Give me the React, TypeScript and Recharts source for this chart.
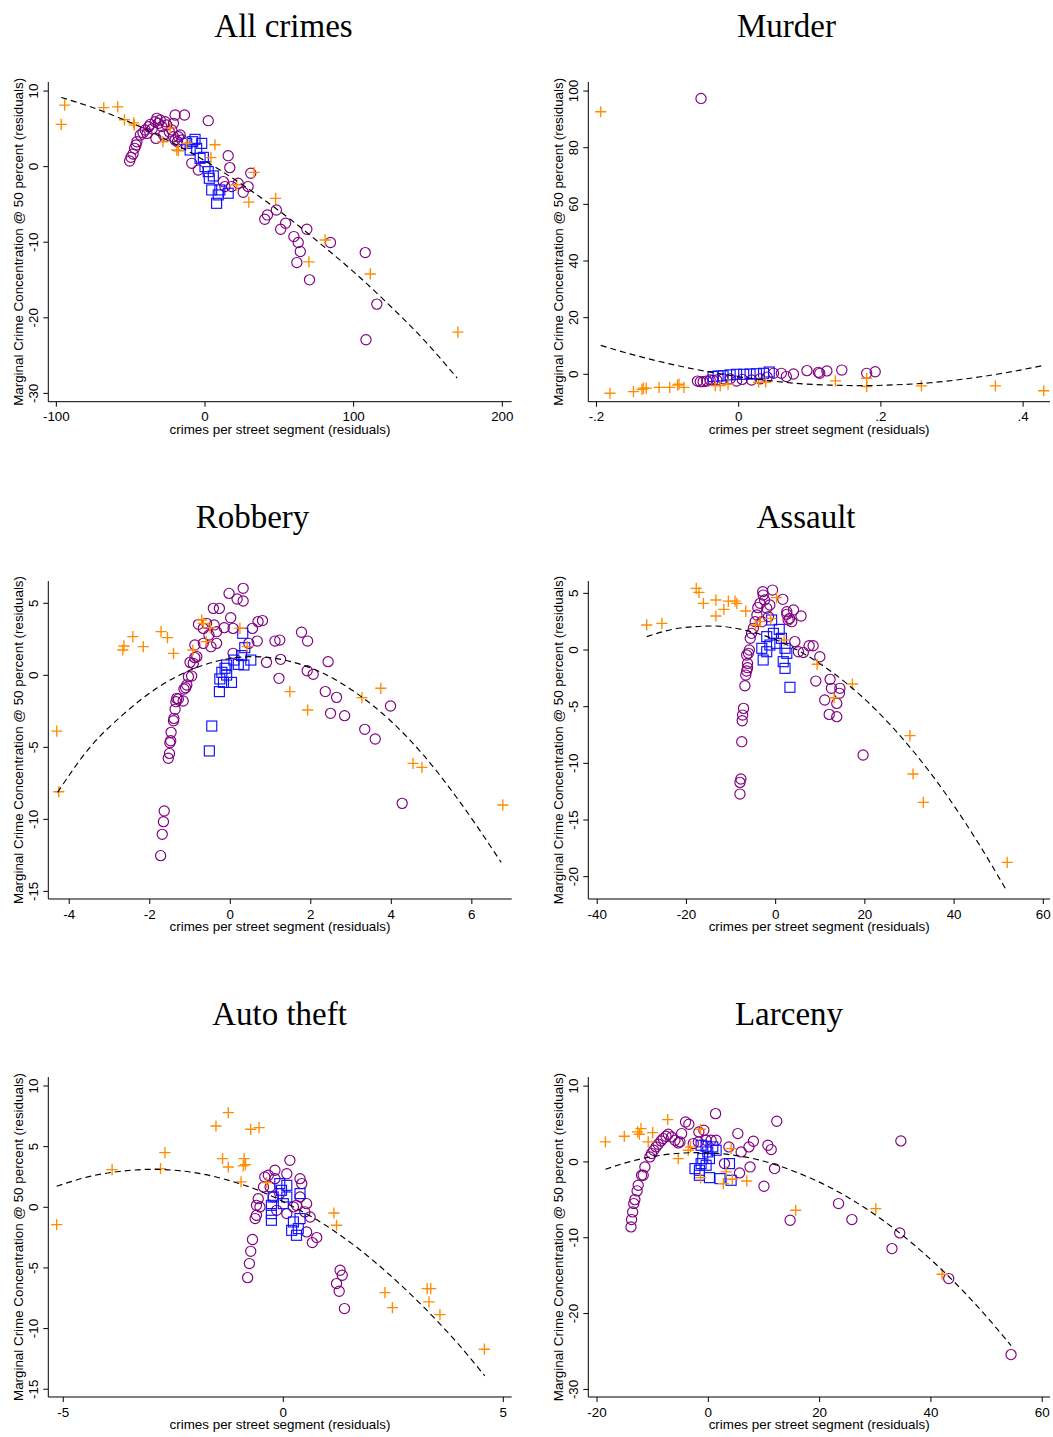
import { ScatterChart, Scatter, XAxis, YAxis } from 'recharts'

type Pt = [number, number]

// ---------- All crimes ----------
const allCrimesCircles: Pt[] = [
  [-50.7, 0.75], [-49.8, 1.23], [-48.4, 1.67], [-47.3, 2.42], [-46.4, 2.86], [-45.8, 3.3], [-43.5, 4.19],
  [-41.7, 4.49], [-40.2, 4.85], [-39, 4.4], [-37.9, 5.29], [-36.8, 5.59], [-35.5, 5.0], [-33.5, 5.95],
  [-32.4, 6.39], [-31.3, 5.73], [-30.1, 6.17], [-29, 5.3], [-26.8, 5.95], [-25.7, 5.51], [-24, 4.6],
  [-21.2, 5.73], [-20.1, 6.83], [-13.8, 6.83], [2.2, 6.08], [-33.0, 3.74], [-27.9, 4.19], [-22.3, 4.85],
  [-21.2, 3.96], [-20.1, 3.52], [-18.5, 3.3], [-17.9, 3.96], [-16.7, 4.19], [-15.6, 3.52], [-8.9, 0.44],
  [-4.5, -0.44], [15.6, 1.45], [16.7, -0.13], [30.8, -0.88], [12.3, -1.98], [13.4, -2.64], [17.9, -2.64],
  [22.3, -2.2], [29.0, -2.64], [25.7, -3.39], [48.0, -5.73], [40.2, -6.96], [42.0, -6.39], [54.2, -7.49],
  [50.9, -8.28], [59.8, -9.25], [62.7, -10.04], [64.1, -11.23], [61.8, -12.69], [68.5, -8.28], [70.3, -14.98],
  [84.4, -10.04], [107.8, -11.37], [115.6, -18.19], [108.3, -22.9],
]
const allCrimesSquares: Pt[] = [
  [-12.3, 3.08], [-8.3, 3.3], [-6.7, 3.61], [-2.2, 3.08], [-10.0, 2.2], [-5.6, 2.42], [-3.3, 1.1],
  [-1.1, 1.23], [0, 0], [2.2, -0.66], [5.6, -1.23], [2.9, -1.54], [4.5, -3.08], [8.9, -3.74],
  [15.6, -3.52], [7.8, -4.85], [10.0, -3.08],
]
const allCrimesPluses: Pt[] = [
  [-94.4, 8.15], [-96.7, 5.6], [-68.1, 7.8], [-58.7, 7.9], [-54.2, 6.2], [-48.0, 5.8], [-47.5, 5.5],
  [-23.4, 5.1], [-28.3, 3.3], [-19.0, 2.2], [-17.9, 2.1], [-12.3, 3.1], [6.7, 2.9], [4.0, 1.2],
  [33.0, -0.75], [21.2, -2.4], [29.5, -4.7], [47.5, -4.2], [69.9, -12.6], [80.8, -9.7], [111.2, -14.2],
  [170.1, -21.9],
]
const allCrimesFit: Pt[] = [
  [-96.7, 9.16], [-77.0, 7.92], [-54.7, 6.22], [-32.4, 4.21], [-10.0, 1.89], [12.3, -0.73], [34.6, -3.67],
  [56.9, -6.9], [79.2, -10.45], [101.6, -14.2], [123.9, -18.3], [146.2, -22.7], [169.6, -27.97],
]

// ---------- Murder ----------
const murderCircles: Pt[] = [
  [-0.058, -2.4], [-0.054, -2.6], [-0.05, -2.6], [-0.045, -2.4], [-0.04, -2.0], [-0.036, -2.2], [-0.031, -2.0],
  [-0.022, -1.6], [-0.012, -1.6], [-0.003, -2.4], [0.005, -1.8], [0.018, -2.0], [0.03, -1.6], [0.04, -1.0],
  [0.049, 0.35], [0.06, 0.35], [0.067, -0.8], [0.077, 0.1], [0.096, 1.3], [0.112, 0.7], [0.114, 0.35],
  [0.124, 1.2], [0.145, 1.5], [0.18, 0.35], [0.192, 0.9], [-0.053, 97.4],
]
const murderSquares: Pt[] = [
  [-0.036, -0.8], [-0.029, -0.6], [-0.022, -0.5], [-0.012, -0.2], [-0.003, 0], [0.007, 0], [0.016, 0.1],
  [0.025, 0.2], [0.035, 0.35], [0.043, 0.8],
]
const murderPluses: Pt[] = [
  [-0.194, 92.7], [-0.181, -6.7], [-0.148, -6.1], [-0.136, -5.3], [-0.134, -4.9], [-0.13, -4.9], [-0.112, -4.6],
  [-0.097, -4.6], [-0.086, -3.8], [-0.084, -3.5], [-0.077, -4.6], [-0.033, -4.0], [-0.026, -4.0], [-0.015, -3.5],
  [0.028, -2.8], [0.038, -2.8], [0.136, -2.3], [0.18, -1.4], [0.18, -4.3], [0.257, -4.1], [0.361, -4.1],
  [0.429, -5.8],
]
const murderFit: Pt[] = [
  [-0.194, 10.2], [-0.153, 7.2], [-0.106, 4.2], [-0.059, 1.65], [-0.012, -0.4], [0.035, -2.0], [0.081, -3.2],
  [0.128, -3.8], [0.175, -4.0], [0.222, -3.7], [0.269, -3.0], [0.316, -1.7], [0.363, 0], [0.428, 3.1],
]

// ---------- Robbery ----------
const robberyCircles: Pt[] = [
  [-1.73, -12.52], [-1.69, -11.04], [-1.66, -10.16], [-1.64, -9.42], [-1.54, -5.76], [-1.51, -5.42], [-1.5, -4.68],
  [-1.48, -4.54], [-1.47, -3.96], [-1.41, -3.15], [-1.4, -2.99], [-1.37, -2.36], [-1.35, -1.83], [-1.33, -1.6],
  [-1.29, -1.64], [-1.17, -1.78], [-1.15, -0.95], [-1.11, -0.86], [-1.08, -0.67], [-1.04, -0.09], [-0.96, -0.05],
  [-1.0, 0.9], [-0.92, 0.83], [-0.88, 1.23], [-0.83, 1.3], [-0.88, 2.11], [-0.67, 2.22], [-0.48, 1.99],
  [-0.34, 2.22], [-0.53, 2.8], [-0.34, 3.03], [-0.79, 3.54], [-0.67, 3.26], [-0.59, 3.61], [-0.4, 3.5],
  [-0.42, 4.65], [-0.27, 4.65], [-0.15, 3.31], [0.01, 4.0], [0.07, 3.26], [-0.03, 5.69], [0.17, 5.3],
  [0.32, 5.16], [0.32, 6.04], [0.07, 1.53], [0.46, 2.22], [0.55, 3.26], [0.67, 2.38], [0.69, 3.73],
  [0.8, 3.8], [0.9, 0.9], [1.11, 2.38], [1.23, 2.45], [1.25, 1.11], [1.21, -0.21], [1.77, 2.99],
  [1.92, 2.38], [1.91, 0.32], [2.06, 0.07], [2.43, 0.95], [2.36, -1.13], [2.64, -1.53], [2.49, -2.64],
  [2.84, -2.8], [3.34, -3.75], [3.6, -4.42], [3.98, -2.13], [4.27, -8.89],
]
const robberySquares: Pt[] = [
  [0.31, 2.92], [0.36, 1.92], [0.28, 1.37], [0.51, 1.06], [0.09, 1.06], [0.2, 0.76], [0.34, 0.72],
  [-0.09, 0.72], [-0.13, 0.49], [-0.21, 0.21], [-0.09, 0.02], [-0.26, -0.25], [-0.17, -0.49], [0.03, -0.49],
  [-0.27, -1.13], [-0.46, -3.52], [-0.52, -5.25],
]
const robberyPluses: Pt[] = [
  [-4.31, -3.87], [-4.26, -8.08], [-2.67, 1.76], [-2.64, 2.04], [-2.42, 2.69], [-2.16, 1.99], [-1.72, 3.03],
  [-1.56, 2.62], [-1.41, 1.53], [-0.93, 1.76], [-0.71, 3.84], [-0.67, 3.61], [-0.5, 3.31], [-0.6, 2.34],
  [0.24, 3.26], [0.42, 1.99], [1.48, -1.13], [1.92, -2.41], [3.27, -1.55], [3.74, -0.9], [4.54, -6.11],
  [4.76, -6.39], [6.77, -9.0],
]
const robberyFit: Pt[] = [
  [-4.29, -8.13], [-3.48, -4.98], [-2.65, -2.69], [-1.83, -0.9], [-1.0, 0.35], [-0.17, 1.09], [0.57, 1.3],
  [1.48, 0.97], [2.31, 0.14], [3.13, -1.23], [3.96, -3.1], [4.79, -5.51], [5.61, -8.43], [6.73, -12.99],
]

// ---------- Assault ----------
const assaultCircles: Pt[] = [
  [-8.0, -12.71], [-8.0, -11.68], [-7.8, -11.38], [-7.6, -8.09], [-7.5, -6.24], [-7.4, -5.74], [-7.2, -5.15],
  [-6.9, -3.15], [-6.7, -2.21], [-6.5, -1.85], [-6.3, -1.56], [-6.3, -1.18], [-6.5, -0.44], [-6.1, -0.29],
  [-5.9, 0], [-5.7, 1.03], [-5.4, 1.47], [-5.0, 1.91], [-4.6, 2.5], [-4.2, 3.09], [-4.0, 3.74], [-3.5, 4.12],
  [-2.9, 5.15], [-2.8, 4.85], [-0.7, 5.29], [-2.5, 4.41], [-2.0, 3.68], [-1.3, 3.97], [-1.6, 2.94],
  [-3.1, 2.5], [1.6, 4.47], [2.5, 3.15], [2.5, 3.38], [2.8, 2.65], [3.1, 2.79], [3.6, 2.5], [4.0, 3.53],
  [5.7, 3.0], [4.3, 0.74], [5.1, -0.15], [6.2, -0.21], [7.5, 0.38], [8.4, 0.38], [9.9, -0.59], [9.0, -2.74],
  [12.2, -2.59], [12.5, -3.38], [14.4, -3.38], [11.0, -4.41], [13.7, -4.71], [12.0, -5.68], [13.7, -5.88],
  [14.3, -3.82], [19.6, -9.26],
]
const assaultSquares: Pt[] = [
  [-0.9, 2.65], [0.8, 1.82], [-2.0, 1.18], [-0.5, 1.47], [1.3, 1.03], [-3.1, 0.15], [-1.3, 0.44],
  [0.2, 0.59], [2.1, 0.15], [-2.0, -0.15], [2.5, -0.29], [-2.8, -0.88], [1.7, -1.03], [2.1, -1.62],
  [3.2, -3.29],
]
const assaultPluses: Pt[] = [
  [-28.9, 2.21], [-25.5, 2.35], [-17.8, 5.44], [-17.2, 5.09], [-16.2, 4.12], [-13.4, 4.41], [-13.4, 3.0],
  [-11.6, 3.59], [-10.6, 4.32], [-9.1, 4.32], [-8.7, 4.12], [-6.7, 3.44], [-4.5, 2.21], [-3.5, 2.5],
  [-1.1, 2.79], [0.2, 4.62], [1.9, 0.88], [9.3, -1.26], [17.2, -3.0], [13.1, -4.21], [30.1, -7.56],
  [30.8, -10.94], [33.1, -13.44], [51.9, -18.74],
]
const assaultFit: Pt[] = [
  [-28.9, 1.18], [-21.4, 1.94], [-14.0, 2.12], [-6.5, 1.71], [1.0, 0.74], [8.4, -0.82], [15.9, -2.94],
  [23.4, -5.65], [30.8, -8.91], [38.3, -12.79], [45.7, -17.21], [51.7, -21.18],
]

// ---------- Auto theft ----------
const autoCircles: Pt[] = [
  [-0.81, -5.8], [-0.77, -4.64], [-0.74, -3.63], [-0.7, -2.66], [-0.64, -0.93], [-0.61, -0.66], [-0.61, 0.16],
  [-0.57, 0.71], [-0.53, 0.03], [-0.45, 1.68], [-0.42, 2.5], [-0.34, 2.64], [-0.19, 3.05], [-0.19, 2.36],
  [0.08, 2.77], [0.15, 3.87], [0.38, 2.36], [0.42, 1.95], [0.38, 0.85], [0.3, 0.16], [0.53, 0.3],
  [0.49, -0.38], [0.23, 0.03], [0.08, -0.52], [0.61, -0.8], [0.53, -2.03], [0.76, -2.5], [0.66, -2.91],
  [1.29, -5.19], [1.34, -5.6], [1.21, -6.29], [1.27, -6.92], [1.39, -8.35], [-0.23, 0.85], [-0.15, -0.25],
  [-0.3, 1.68], [-0.08, 1.13],
]
const autoSquares: Pt[] = [
  [-0.08, 1.95], [0.08, 1.81], [-0.04, 1.4], [-0.23, 0.85], [0.08, 0.85], [0.38, 1.13], [-0.27, 0.16],
  [-0.27, -0.52], [-0.27, -1.07], [0, 0.3], [0.23, -1.21], [0.38, -0.93], [0.19, -1.9], [0.3, -2.31],
  [0.34, -1.76],
]
const autoPluses: Pt[] = [
  [-5.15, -1.43], [-3.89, 3.1], [-2.79, 3.19], [-2.69, 4.51], [-1.53, 6.7], [-1.25, 7.8], [-1.38, 4.01],
  [-1.25, 3.32], [-0.89, 4.01], [-0.91, 3.41], [-0.86, 3.52], [-0.74, 6.43], [-0.55, 6.57], [-0.96, 2.09],
  [-0.38, 2.03], [1.15, -0.47], [1.21, -1.48], [2.31, -7.03], [2.48, -8.27], [3.27, -6.7], [3.35, -6.7],
  [3.31, -7.8], [3.56, -8.85], [4.57, -11.7],
]
const autoFit: Pt[] = [
  [-5.15, 1.73], [-4.39, 2.55], [-3.64, 2.99], [-2.99, 3.13], [-2.12, 2.91], [-1.36, 2.34], [-0.61, 1.46],
  [0.15, 0.19], [0.91, -1.37], [1.67, -3.3], [2.42, -5.58], [3.18, -8.19], [3.94, -11.13], [4.58, -13.9],
]

// ---------- Larceny ----------
const larcenyCircles: Pt[] = [
  [-13.9, -8.57], [-13.8, -7.6], [-13.6, -6.59], [-13.4, -5.49], [-13.2, -4.97], [-12.8, -3.82], [-12.6, -3.08],
  [-12.0, -1.76], [-11.7, -1.76], [-11.4, -0.66], [-10.5, 0.66], [-10.2, 1.1], [-9.8, 1.54], [-9.4, 1.98],
  [-9.0, 2.33], [-8.5, 2.77], [-8.1, 3.08], [-7.6, 3.38], [-7.2, 3.65], [-6.6, 3.3], [-6.0, 2.86],
  [-5.4, 2.51], [-5.1, 2.64], [-4.8, 3.74], [-4.1, 5.27], [-3.5, 4.97], [-2.7, 2.42], [-1.8, 2.64],
  [-1.7, 3.96], [-0.8, 4.18], [-0.4, 2.86], [0.5, 2.86], [1.3, 6.37], [1.4, 2.86], [2.9, -0.22],
  [3.7, 1.98], [5.3, 3.74], [5.9, 1.32], [5.6, -1.45], [7.3, 1.98], [8.1, 2.73], [7.5, -0.66],
  [10.7, 2.2], [11.3, 1.63], [11.9, -0.88], [12.3, 5.36], [10.0, -3.21], [14.7, -7.69], [23.4, -5.49],
  [25.8, -7.6], [33.0, -11.43], [34.4, -9.36], [34.6, 2.77], [43.2, -15.38], [54.4, -25.41],
]
const larcenySquares: Pt[] = [
  [-1.3, 2.2], [-0.4, 2.07], [0.8, 1.98], [1.4, 1.54], [-0.1, 1.32], [-1.0, 0.44], [0.2, 0.44],
  [-1.3, -0.22], [-0.4, -0.44], [-2.4, -0.88], [-1.6, -1.1], [-1.6, -1.76], [0.2, -2.07], [2.1, -2.2],
  [4.1, -2.42], [3.8, -0.22],
]
const larcenyPluses: Pt[] = [
  [-18.5, 2.64], [-15.1, 3.38], [-12.7, 3.96], [-12.4, 3.65], [-12.1, 4.4], [-10.0, 3.87], [-10.8, 2.64],
  [-7.3, 5.58], [-5.4, 0.44], [-3.6, 1.54], [-3.2, 1.98], [-1.4, 4.31], [-1.4, -2.07], [2.7, -2.86],
  [3.2, -1.32], [4.1, 1.76], [4.3, -2.29], [6.9, -2.51], [15.7, -6.37], [30.1, -6.15], [42.0, -14.81],
]
const larcenyFit: Pt[] = [
  [-18.5, -0.97], [-14.1, 0.04], [-8.1, 0.92], [-2.1, 1.23], [3.8, 0.97], [9.8, 0.13], [15.7, -1.32],
  [21.7, -3.3], [27.7, -5.85], [33.6, -8.92], [39.6, -12.62], [45.6, -16.88], [51.5, -21.67], [54.4, -24.22],
]

const PURPLE = '#800080'
const BLUE = '#1010ff'
const ORANGE = '#ff8c00'
const SANS = '"Liberation Sans", Arial, Helvetica, sans-serif'
const SERIF = '"Liberation Serif", "Times New Roman", serif'
const FS = 13.4

const Y_AXIS_W = 48.3
const X_AXIS_H = 40
const TOP_PAD = 12
const RIGHT_PAD = 3

const toPts = (arr: Pt[]) => arr.map(([x, y]) => ({ x, y }))

const Ring = (p: any) => <circle cx={p.cx} cy={p.cy} r={5.1} fill="none" stroke={PURPLE} strokeWidth={1.15} />
const Box = (p: any) => (
  <rect x={p.cx - 5} y={p.cy - 5} width={10} height={10} fill="none" stroke={BLUE} strokeWidth={1.15} />
)
const Cross = (p: any) => (
  <path
    d={`M${p.cx - 5.6},${p.cy}H${p.cx + 5.6}M${p.cx},${p.cy - 5.6}V${p.cy + 5.6}`}
    stroke={ORANGE}
    strokeWidth={1.35}
    fill="none"
  />
)
const NoDot = () => <g />

const plain = (v: number) => String(v)
const stataDec = (v: number) => String(v).replace(/^(-?)0\./, '$1.')

interface PanelProps {
  box: { left: number; right: number; top: number; bottom: number }
  xDomain: [number, number]
  yDomain: [number, number]
  xTicks: number[]
  yTicks: number[]
  circles: Pt[]
  squares: Pt[]
  pluses: Pt[]
  fit: Pt[]
  xFmt?: (v: number) => string
}

function Panel({ box, xDomain, yDomain, xTicks, yTicks, circles, squares, pluses, fit, xFmt = plain }: PanelProps) {
  const chartLeft = box.left - Y_AXIS_W
  const chartTop = box.top - TOP_PAD
  const width = box.right - chartLeft + RIGHT_PAD
  const height = box.bottom + X_AXIS_H - chartTop

  const yTick = (p: any) => (
    <text
      x={0}
      y={0}
      transform={`translate(${p.x},${p.y}) rotate(-90)`}
      textAnchor="middle"
      fontSize={FS}
      fontFamily={SANS}
      fill="#000"
    >
      {plain(p.payload.value)}
    </text>
  )

  return (
    <div style={{ position: 'absolute', left: chartLeft, top: chartTop, fontFamily: SANS }}>
      <ScatterChart width={width} height={height} margin={{ top: TOP_PAD, right: RIGHT_PAD, left: 0, bottom: 0 }}>
        <XAxis
          type="number"
          dataKey="x"
          domain={xDomain}
          ticks={xTicks}
          interval={0}
          height={X_AXIS_H}
          tickSize={5}
          tickMargin={5}
          tickFormatter={xFmt}
          tick={{ fontSize: FS, fill: '#000' }}
          axisLine={{ stroke: '#000' }}
          tickLine={{ stroke: '#000' }}
          label={{
            value: 'crimes per street segment (residuals)',
            position: 'insideBottom',
            offset: 8,
            fontSize: FS,
            fill: '#000',
          }}
        />
        <YAxis
          type="number"
          dataKey="y"
          domain={yDomain}
          ticks={yTicks}
          interval={0}
          width={Y_AXIS_W}
          tickSize={5}
          tickMargin={5.6}
          tick={yTick}
          axisLine={{ stroke: '#000' }}
          tickLine={{ stroke: '#000' }}
          label={{
            value: 'Marginal Crime Concentration @ 50 percent (residuals)',
            angle: -90,
            position: 'insideLeft',
            offset: 18,
            fontSize: FS,
            fill: '#000',
            style: { textAnchor: 'middle' },
          }}
        />
        <Scatter data={toPts(circles)} shape={Ring} isAnimationActive={false} />
        <Scatter data={toPts(squares)} shape={Box} isAnimationActive={false} />
        <Scatter data={toPts(pluses)} shape={Cross} isAnimationActive={false} />
        <Scatter
          data={toPts(fit)}
          shape={NoDot}
          line={{ stroke: '#000', strokeWidth: 1.15, strokeDasharray: '6 4' }}
          lineType="joint"
          lineJointType="monotoneX"
          isAnimationActive={false}
        />
      </ScatterChart>
    </div>
  )
}

const titles = ['All crimes', 'Murder', 'Robbery', 'Assault', 'Auto theft', 'Larceny']
const titlePos: [number, number][] = [
  [283.5, 37], [786.5, 37], [252.5, 528], [806, 528], [279.5, 1025], [789, 1025],
]

const LEFT_COL = { left: 48.3, right: 511.7 }
const RIGHT_COL = { left: 588.3, right: 1050 }

export default function App() {
  return (
    <div style={{ position: 'absolute', left: 0, top: 0, width: 1053, height: 1437, background: '#fff' }}>
      <Panel
        box={{ ...LEFT_COL, top: 82, bottom: 401.7 }}
        xDomain={[-105.4, 206.3]}
        yDomain={[-31.1, 11.2]}
        xTicks={[-100, 0, 100, 200]}
        yTicks={[-30, -20, -10, 0, 10]}
        circles={allCrimesCircles}
        squares={allCrimesSquares}
        pluses={allCrimesPluses}
        fit={allCrimesFit}
      />
      <Panel
        box={{ ...RIGHT_COL, top: 82, bottom: 401.7 }}
        xDomain={[-0.2115, 0.4378]}
        yDomain={[-9.67, 103.2]}
        xTicks={[-0.2, 0, 0.2, 0.4]}
        yTicks={[0, 20, 40, 60, 80, 100]}
        circles={murderCircles}
        squares={murderSquares}
        pluses={murderPluses}
        fit={murderFit}
        xFmt={stataDec}
      />
      <Panel
        box={{ ...LEFT_COL, top: 581, bottom: 899 }}
        xDomain={[-4.52, 6.99]}
        yDomain={[-15.53, 6.55]}
        xTicks={[-4, -2, 0, 2, 4, 6]}
        yTicks={[-15, -10, -5, 0, 5]}
        circles={robberyCircles}
        squares={robberySquares}
        pluses={robberyPluses}
        fit={robberyFit}
      />
      <Panel
        box={{ ...RIGHT_COL, top: 581, bottom: 899 }}
        xDomain={[-42, 61.5]}
        yDomain={[-21.97, 6.09]}
        xTicks={[-40, -20, 0, 20, 40, 60]}
        yTicks={[-20, -15, -10, -5, 0, 5]}
        circles={assaultCircles}
        squares={assaultSquares}
        pluses={assaultPluses}
        fit={assaultFit}
      />
      <Panel
        box={{ ...LEFT_COL, top: 1076.7, bottom: 1396.7 }}
        xDomain={[-5.34, 5.19]}
        yDomain={[-15.64, 10.74]}
        xTicks={[-5, 0, 5]}
        yTicks={[-15, -10, -5, 0, 5, 10]}
        circles={autoCircles}
        squares={autoSquares}
        pluses={autoPluses}
        fit={autoFit}
      />
      <Panel
        box={{ ...RIGHT_COL, top: 1076.7, bottom: 1396.7 }}
        xDomain={[-21.57, 61.4]}
        yDomain={[-31.0, 11.2]}
        xTicks={[-20, 0, 20, 40, 60]}
        yTicks={[-30, -20, -10, 0, 10]}
        circles={larcenyCircles}
        squares={larcenySquares}
        pluses={larcenyPluses}
        fit={larcenyFit}
      />
      <svg
        width={1053}
        height={1437}
        style={{ position: 'absolute', left: 0, top: 0, pointerEvents: 'none' }}
      >
        {titles.map((t, i) => (
          <text
            key={t}
            x={titlePos[i][0]}
            y={titlePos[i][1]}
            textAnchor="middle"
            fontFamily={SERIF}
            fontSize={33}
            fill="#000"
          >
            {t}
          </text>
        ))}
      </svg>
    </div>
  )
}
